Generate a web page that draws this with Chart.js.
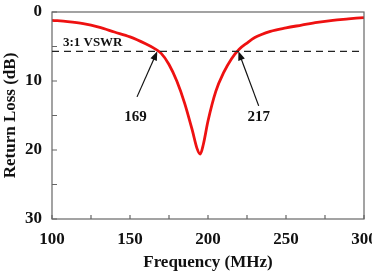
<!DOCTYPE html>
<html>
<head>
<meta charset="utf-8">
<script src="https://cdn.jsdelivr.net/npm/chart.js@4"></script>
<style>
  html, body { margin: 0; padding: 0; background: #fff; }
  #wrap { width: 372px; height: 273px; }
</style>
</head>
<body>
<div id="wrap"><canvas id="chart" width="372" height="273"></canvas></div>
<script>
// return loss curve
const freqs = [100, 110, 120, 130, 140, 150, 160, 165, 170, 175, 180, 185, 190, 193, 195, 197, 200, 205, 210, 215, 220, 225, 230, 240, 250, 260, 270, 280, 290, 300];
const returnLoss = [1.2, 1.4, 1.7, 2.2, 2.9, 3.6, 4.6, 5.2, 6.0, 7.6, 10.0, 13.2, 17.2, 19.8, 20.6, 19.2, 15.8, 11.5, 8.8, 6.8, 5.4, 4.5, 3.7, 2.8, 2.3, 1.9, 1.5, 1.2, 1.0, 0.8];

const xTicks = [100, 125, 150, 175, 200, 225, 250, 275, 300];
const yTicks = [0, 5, 10, 15, 20, 25, 30];
const vswrLevel = 5.7;

// arrows: label text, head (on the curve) and tail/label position, in data units
const markers = [
    { text: '169', head: [167.5, 5.7], tail: [154.5, 12.3], label: [153.5, 15.3] },
    { text: '217', head: [219.5, 5.7], tail: [232.5, 13.6], label: [232.5, 15.3] }
];

const serif = '"Liberation Serif", "Times New Roman", serif';
const axisColor = '#666';

// drop the extra room chart.js keeps for overhanging tick labels
function noLabelPadding(s) {
    s.paddingLeft = 0;
    s.paddingRight = 0;
    s.paddingTop = 0;
    s.paddingBottom = 0;
}

// box, inward ticks, VSWR line and arrows
const decorPlugin = {
    id: 'decor',
    afterDatasetsDraw(chart) {
        const ctx = chart.ctx;
        const a = chart.chartArea;
        const xs = chart.scales.x;
        const ys = chart.scales.y;
        ctx.save();

        // frame
        ctx.strokeStyle = axisColor;
        ctx.lineWidth = 1.2;
        ctx.strokeRect(a.left, a.top, a.right - a.left, a.bottom - a.top);

        // ticks pointing inward
        ctx.beginPath();
        xTicks.forEach(v => {
            const px = xs.getPixelForValue(v);
            ctx.moveTo(px, a.bottom);
            ctx.lineTo(px, a.bottom - 4);
        });
        yTicks.forEach(v => {
            const py = ys.getPixelForValue(v);
            ctx.moveTo(a.left, py);
            ctx.lineTo(a.left + 5, py);
        });
        ctx.stroke();

        // 3:1 VSWR dashed line
        const vy = ys.getPixelForValue(vswrLevel);
        ctx.strokeStyle = '#222';
        ctx.lineWidth = 1.4;
        ctx.setLineDash([7, 5]);
        ctx.beginPath();
        ctx.moveTo(a.left, vy);
        ctx.lineTo(a.right, vy);
        ctx.stroke();
        ctx.setLineDash([]);

        ctx.fillStyle = '#111';
        ctx.font = 'bold 13px ' + serif;
        ctx.textAlign = 'left';
        ctx.textBaseline = 'bottom';
        ctx.fillText('3:1 VSWR', xs.getPixelForValue(107), vy - 2);

        // arrows and labels
        markers.forEach(m => {
            const hx = xs.getPixelForValue(m.head[0]);
            const hy = ys.getPixelForValue(m.head[1]);
            const tx = xs.getPixelForValue(m.tail[0]);
            const ty = ys.getPixelForValue(m.tail[1]);
            const ang = Math.atan2(hy - ty, hx - tx);
            ctx.strokeStyle = '#111';
            ctx.lineWidth = 1.2;
            ctx.beginPath();
            ctx.moveTo(tx, ty);
            ctx.lineTo(hx - 6 * Math.cos(ang), hy - 6 * Math.sin(ang));
            ctx.stroke();
            ctx.beginPath();
            ctx.moveTo(hx, hy);
            ctx.lineTo(hx - 9 * Math.cos(ang) + 3.5 * Math.sin(ang), hy - 9 * Math.sin(ang) - 3.5 * Math.cos(ang));
            ctx.lineTo(hx - 9 * Math.cos(ang) - 3.5 * Math.sin(ang), hy - 9 * Math.sin(ang) + 3.5 * Math.cos(ang));
            ctx.closePath();
            ctx.fill();

            ctx.font = 'bold 15px ' + serif;
            ctx.textAlign = 'center';
            ctx.textBaseline = 'middle';
            ctx.fillText(m.text, xs.getPixelForValue(m.label[0]), ys.getPixelForValue(m.label[1]));
        });

        ctx.restore();
    }
};

new Chart(document.getElementById('chart').getContext('2d'), {
    type: 'line',
    data: {
        datasets: [{
            data: freqs.map((f, i) => ({ x: f, y: returnLoss[i] })),
            borderColor: '#ee1111',
            borderWidth: 2.8,
            pointRadius: 0,
            tension: 0.4,
            cubicInterpolationMode: 'monotone',
            fill: false
        }]
    },
    options: {
        responsive: false,
        animation: false,
        layout: { padding: { top: 12, right: 8, left: 0, bottom: 0 } },
        plugins: {
            legend: { display: false },
            tooltip: { enabled: false }
        },
        scales: {
            x: {
                type: 'linear',
                min: 100,
                max: 300,
                afterFit: s => { s.height = 54; noLabelPadding(s); },
                afterBuildTicks: s => { s.ticks = xTicks.map(v => ({ value: v })); },
                grid: { display: false, drawTicks: false },
                border: { display: false },
                ticks: {
                    padding: 10,
                    color: '#111',
                    font: { family: serif, size: 17, weight: 'bold' },
                    callback: v => (v % 50 === 0 ? v : '')
                },
                title: {
                    display: true,
                    text: 'Frequency (MHz)',
                    color: '#111',
                    font: { family: serif, size: 17, weight: 'bold' },
                    padding: 0
                }
            },
            y: {
                min: 0,
                max: 30,
                reverse: true,
                afterFit: s => { s.width = 52; noLabelPadding(s); },
                afterBuildTicks: s => { s.ticks = yTicks.map(v => ({ value: v })); },
                grid: { display: false, drawTicks: false },
                border: { display: false },
                ticks: {
                    padding: 10,
                    color: '#111',
                    font: { family: serif, size: 17, weight: 'bold' },
                    callback: v => (v % 10 === 0 ? v : '')
                },
                title: {
                    display: true,
                    text: 'Return Loss (dB)',
                    color: '#111',
                    font: { family: serif, size: 17, weight: 'bold' },
                    padding: 0
                }
            }
        }
    },
    plugins: [decorPlugin]
});
</script>
</body>
</html>
